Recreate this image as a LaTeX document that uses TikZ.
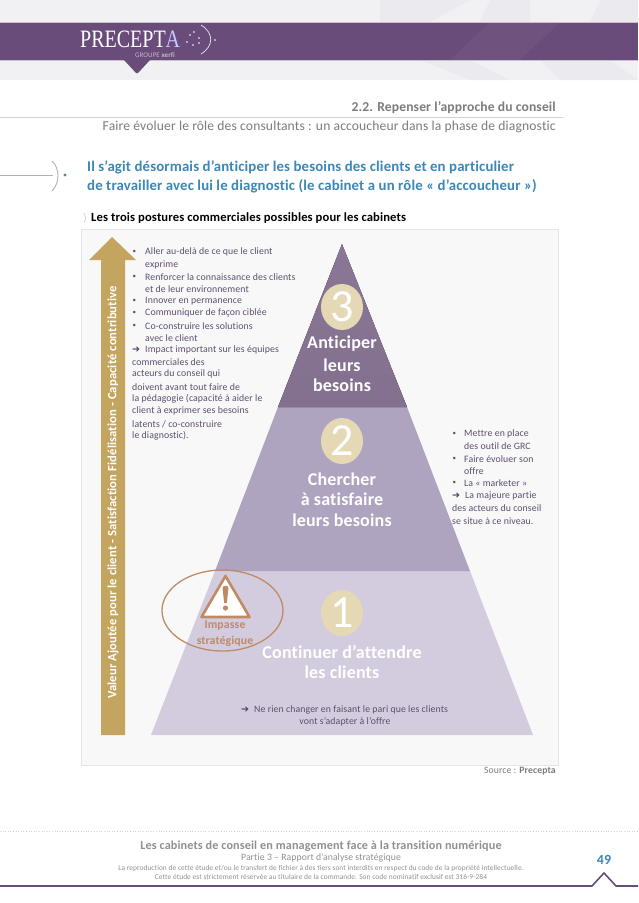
\documentclass[tikz,border=0pt]{standalone}
\usepackage{fontspec}
\setmainfont{Carlito}[Ligatures=NoCommon,LetterSpace=1]
\newfontfamily\djfont{DejaVu Sans}
\newfontfamily\logofont{Liberation Serif}
\definecolor{bandpurple}{HTML}{694C79}
\definecolor{bandlight}{HTML}{F1F0F3}
\definecolor{bandshade}{HTML}{EBEAEE}
\definecolor{panelbg}{HTML}{F8F8F9}
\definecolor{panelline}{HTML}{E6E6E8}
\definecolor{goldarrow}{HTML}{C4A55F}
\definecolor{toplevel}{HTML}{8A7696}
\definecolor{midlevel}{HTML}{AFA4C0}
\definecolor{lowlevel}{HTML}{D2CCDE}
\definecolor{circlecol}{HTML}{E5D8B4}
\definecolor{bodytext}{HTML}{5E4F6C}
\definecolor{headblue}{HTML}{3A87B8}
\definecolor{greytext}{HTML}{7C7C7C}
\definecolor{warn}{HTML}{C08A64}
\tikzset{
 ln/.style={inner sep=0pt,anchor=west,text=bodytext,font=\fontsize{9.8}{10}\selectfont},
 bul/.style={inner sep=0pt,anchor=west,text=bodytext,font=\fontsize{7}{8}\selectfont},
 arw/.style={inner sep=0pt,anchor=west,text=bandpurple!80!black,font=\djfont\fontsize{9.5}{10}\selectfont},
 big/.style={inner sep=0pt,text=white,font=\fontsize{18}{19}\selectfont\bfseries},
 num/.style={inner sep=0pt,text=white,font=\fontsize{46}{46}\selectfont},
 disc/.style={fill=circlecol,draw=none},
 blue/.style={inner sep=0pt,anchor=west,text=headblue,font=\fontsize{14.8}{15}\selectfont\bfseries},
 rtx/.style={inner sep=0pt,anchor=east,text=greytext},
 ftx/.style={inner sep=0pt,text=greytext!85}
}
\begin{document}
\begin{tikzpicture}[x=1pt,y=-1pt]
\useasboundingbox (0,0) rectangle (638,903);
\fill[white] (0,0) rectangle (638,903);
% header
\fill[bandlight] (0,0) rectangle (638,80);
\fill[bandshade] (380,0) -- (470,0) -- (430,22) -- (380,22) -- cycle;
\fill[bandshade] (490,0) -- (530,0) -- (530,22) -- (480,22) -- cycle;
\fill[bandshade] (600,0) -- (638,0) -- (638,22) -- (590,22) -- cycle;
\fill[bandshade] (420,60) -- (470,60) -- (510,80) -- (470,80) -- cycle;
\fill[bandshade] (540,60) -- (610,60) -- (638,80) -- (560,80) -- cycle;
\fill[bandpurple] (0,22) rectangle (638,60);
\fill[bandpurple!96!white] (490,22) -- (560,22) -- (520,60) -- (450,60) -- cycle;
\draw[bandpurple!35!white,line width=.5pt] (0,22) -- (638,22) (0,60) -- (638,60);
\fill[bandpurple] (124,60) -- (150,60) -- (138,73) -- (136,73) -- cycle;
\node[inner sep=0pt,anchor=west,text=white,xscale=.8,font=\logofont\fontsize{25}{26}\selectfont] (logo) at (80,39.5) {PRECEPT\textcolor{blue!22!white}{A}};
\draw[white!85!bandpurple,line width=.7pt] (201,25) .. controls (214,33) and (214,46) .. (201,54);
\fill[white] (190,35) circle (.8) (194,32) circle (.8) (199,38) circle (.8) (187,42) circle (.8) (199,43) circle (.8) (193,45) circle (.8) (215,40) circle (.8);
\node[inner sep=0pt,anchor=west,text=white!60!bandpurple,font=\fontsize{7}{7}\selectfont] (groupe) at (135,55) {GROUPE \textbf{xerfi}};
% titles
\draw[panelline!80!gray,line width=.5pt] (0,117) -- (563,117);
\node[rtx,font=\fontsize{13.6}{14}\selectfont\bfseries] (sec) at (556,108) {2.2. Repenser l’approche du conseil};
\node[rtx,font=\fontsize{13.6}{14}\selectfont] (sub) at (556,127) {Faire évoluer le rôle des consultants : un accoucheur dans la phase de diagnostic};
% lead
\draw[gray!60,line width=.6pt] (0,175) -- (53,175);
\draw[gray!60,line width=.9pt] (52,161) .. controls (60,168) and (60,183) .. (52,191);
\fill[headblue!60!gray] (65,175) circle (1.6);
\node[blue] (h1) at (87,167) {Il s’agit désormais d’anticiper les besoins des clients et en particulier};
\node[blue] (h2) at (87,186) {de travailler avec lui le diagnostic (le cabinet a un rôle « d’accoucheur »)};
\draw[gray!50,line width=.4pt] (84,213) -- (86,218) -- (84,223);
\node[inner sep=0pt,anchor=west,text=black,font=\fontsize{12.6}{13}\selectfont\bfseries] (h3) at (91,218) {Les trois postures commerciales possibles pour les cabinets};
% panel
\fill[panelbg,draw=panelline,line width=.5pt] (81,229) rectangle (558,765);
% gold arrow
\fill[goldarrow] (101,735) -- (101,260) -- (89,260) -- (112,237) -- (136,260) -- (125,260) -- (125,735) -- cycle;
\node[inner sep=0pt,rotate=90,text=white,font=\fontsize{12.6}{13}\selectfont\bfseries] (vlabel) at (113,492.5) {Valeur Ajoutée pour le client - Satisfaction Fidélisation - Capacité contributive};
% pyramid
\fill[lowlevel] (151,735) -- (215,571) -- (470,571) -- (533,735) -- cycle;
\fill[midlevel] (215,571) -- (278,407) -- (407,407) -- (470,571) -- cycle;
\fill[top color=toplevel,bottom color=toplevel!95!black] (278,407) -- (342,244) -- (407,407) -- cycle;
\fill[disc] (342,307) ellipse (21 and 23);
\fill[disc] (342,441) ellipse (21 and 23);
\fill[disc] (342,613) ellipse (21 and 23);
\node[num] (n3) at (342,307) {3};
\node[num] (n2) at (342,441) {2};
\node[num] (n1) at (342,613) {1};
\node[big] (a1) at (342,344) {Anticiper};
\node[big] (a2) at (342,365) {leurs};
\node[big] (a3) at (342,385) {besoins};
\node[big] (b1) at (342,479) {Chercher};
\node[big] (b2) at (342,499) {à satisfaire};
\node[big] (b3) at (342,520) {leurs besoins};
\node[big] (c1) at (342,652) {Continuer d’attendre};
\node[big] (c2) at (342,672) {les clients};
% left text
\foreach \y/\t in {252/Aller au-delà de ce que le client,265/exprime,277/Renforcer la connaissance des clients,289/et de leur environnement,301/Innover en permanence,313/Communiquer de façon ciblée,326/Co-construire les solutions,338/avec le client}
 \node[ln] at (145,\y) {\t};
\foreach \y in {252,277,301,313,326}
 \node[bul] at (132.5,\y) {•};
\node[arw] (l0a) at (132,350) {➔};
\node[ln] (l0) at (145,350) {Impact important sur les équipes};
\foreach \y/\t in {362/commerciales des,374/acteurs du conseil qui,387/doivent avant tout faire de,399/la pédagogie (capacité à aider le,411/client à exprimer ses besoins,424/{latents / co-construire},436/le diagnostic).}
 \node[ln] at (132,\y) {\t};
% right text
\foreach \y/\t in {434/Mettre en place,446/des outil de GRC,459/Faire évoluer son,471/offre,483/La « marketer »}
 \node[ln] at (464,\y) {\t};
\foreach \y in {434,459,483}
 \node[bul] at (452.5,\y) {•};
\node[arw] (r0a) at (452,496) {➔};
\node[ln] (r0) at (465,496) {La majeure partie};
\node[ln] (r1) at (452,508) {des acteurs du conseil};
\node[ln] (r2) at (452,521) {se situe à ce niveau.};
% bottom note
\node[arw] (nb0) at (241,710) {➔};
\node[ln] (nb1) at (254,710) {Ne rien changer en faisant le pari que les clients};
\node[ln,anchor=center] (nb2) at (345,722) {vont s’adapter à l’offre};
% warning
\draw[warn,line width=1.3pt] (222.5,610.5) ellipse (60.5 and 40.5);
\fill[white,draw=warn,line width=2.6pt,line join=round] (225.5,576) -- (249.5,617) -- (201.5,617) -- cycle;
\fill[warn] (222.5,588) .. controls (222.5,585) and (228.5,585) .. (228.5,588) -- (226.8,603) -- (224.2,603) -- cycle;
\fill[warn] (225.5,608) circle (2.6);
\node[inner sep=0pt,text=warn,font=\fontsize{11.8}{12}\selectfont\bfseries] (im1) at (225,626) {Impasse};
\node[inner sep=0pt,text=warn,font=\fontsize{11.8}{12}\selectfont\bfseries] (im2) at (225,641) {stratégique};
% source
\node[rtx,font=\fontsize{9.7}{10}\selectfont] (src) at (556,771) {Source : \textbf{Precepta}};
% footer
\draw[gray!35,line width=.6pt,dotted] (0,831) -- (638,831);
\node[ftx,font=\fontsize{12.2}{13}\selectfont\bfseries] (f1) at (321,846) {Les cabinets de conseil en management face à la transition numérique};
\node[ftx,font=\fontsize{9.7}{10}\selectfont] (f2) at (321,858) {Partie 3 – Rapport d’analyse stratégique};
\node[ftx,font=\fontsize{7.4}{8}\selectfont] (f3) at (321,869) {La reproduction de cette étude et/ou le transfert de fichier à des tiers sont interdits en respect du code de la propriété intellectuelle.};
\node[ftx,font=\fontsize{7.4}{8}\selectfont] (f4) at (321,877) {Cette étude est strictement réservée au titulaire de la commande. Son code nominatif exclusif est 316-9-284};
\node[inner sep=0pt,text=headblue,font=\fontsize{14}{15}\selectfont\bfseries] (pg) at (604,860) {49};
\draw[bandpurple,line width=1.6pt,line join=round] (0,886) -- (592,886) -- (604,873) -- (616,886) -- (638,886);
\end{tikzpicture}
\end{document}
